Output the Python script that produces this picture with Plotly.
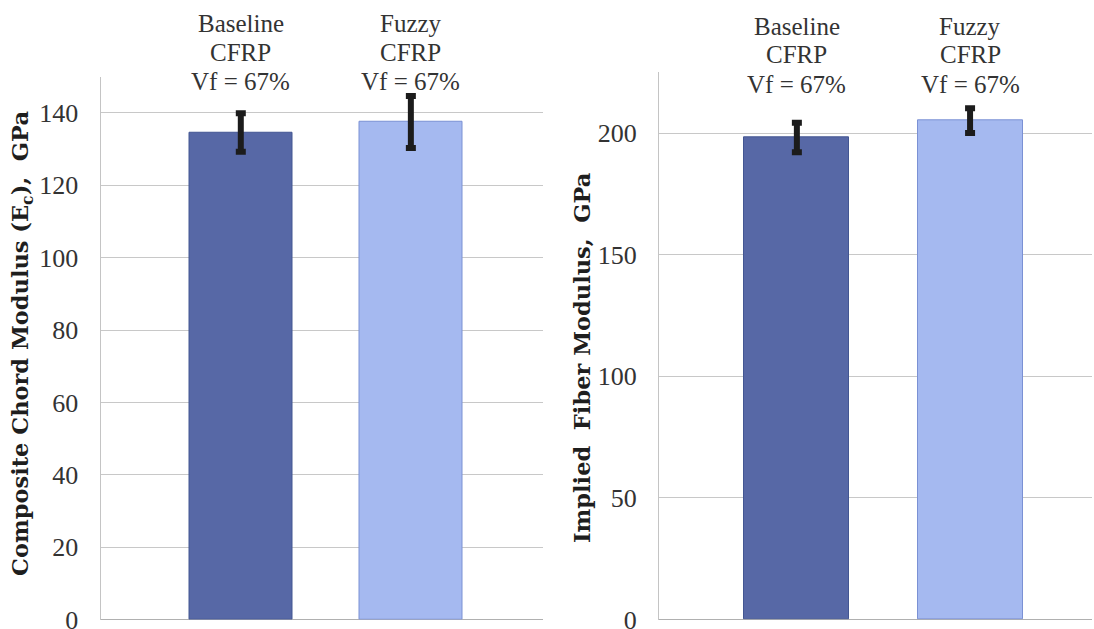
import plotly.graph_objects as go
from plotly.subplots import make_subplots

# ---- data ----
categories = ["Baseline CFRP", "Fuzzy CFRP"]
label_lines = [["Baseline", "CFRP", "Vf = 67%"], ["Fuzzy", "CFRP", "Vf = 67%"]]
composite_modulus = [134.6, 137.5]
composite_err = [5.3, 7.2]
fiber_modulus = [198.2, 205.1]
fiber_err = [6.1, 5.1]
left_ticks = [0, 20, 40, 60, 80, 100, 120, 140]
right_ticks = [0, 50, 100, 150, 200]
left_title = "Composite Chord Modulus (E<sub>c</sub>),  GPa"
right_title = "Implied  Fiber Modulus,  GPa"

bar_colors = ["#5768a6", "#a5b9f0"]
bar_edges = ["#435692", "#7b91d4"]
SERIF = "Liberation Serif"
W, H = 1094, 629

fig = make_subplots(rows=1, cols=2)

err_style = dict(type="data", visible=True, color="#1c1c1c", thickness=6, width=5)

fig.add_trace(go.Bar(x=categories, y=composite_modulus, width=0.606,
                     marker=dict(color=bar_colors, line=dict(color=bar_edges, width=1)),
                     error_y=dict(array=composite_err, **err_style), showlegend=False),
              row=1, col=1)
fig.add_trace(go.Bar(x=categories, y=fiber_modulus, width=0.606,
                     marker=dict(color=bar_colors, line=dict(color=bar_edges, width=1)),
                     error_y=dict(array=fiber_err, **err_style), showlegend=False),
              row=1, col=2)

grid = "#c8c8c8"
yax_common = dict(showgrid=True, gridcolor=grid, gridwidth=1, showline=True, linecolor="#c4c4c4",
                  linewidth=1, zeroline=True, zerolinecolor="#b0b0b0", zerolinewidth=1,
                  ticks="", ticklabelstandoff=16, ticklabeloverflow="allow", automargin=False,
                  tickfont=dict(family=SERIF, size=26, color="#333333"))
xax_common = dict(showticklabels=False, showgrid=False, showline=False, zeroline=False,
                  ticks="", automargin=False)
fig.update_layout(
    width=W, height=H, margin=dict(l=0, r=0, t=0, b=0, autoexpand=False),
    paper_bgcolor="white", plot_bgcolor="white",
    bargap=0,
    xaxis=dict(domain=[100.5 / W, 543 / W], range=[-0.825, 1.777], **xax_common),
    xaxis2=dict(domain=[659 / W, 1092 / W], range=[-0.796, 1.704], **xax_common),
    yaxis=dict(domain=[1 - 619.5 / H, 1 - 76.75 / H], range=[0, 150], tickvals=left_ticks, **yax_common),
    yaxis2=dict(domain=[1 - 619.5 / H, 1 - 72.3 / H], range=[0, 225], tickvals=right_ticks, **yax_common),
)

ann = []
line_y_left = [23.3, 52.7, 81.7]
line_y_right = [26.7, 55.0, 85.0]
for ci, cat in enumerate(categories):
    for li, txt in enumerate(label_lines[ci]):
        ann.append(dict(x=cat, xref="x", y=1 - line_y_left[li] / H, yref="paper", text=txt,
                        showarrow=False, xanchor="center", yanchor="middle",
                        font=dict(family=SERIF, size=25, color="#333333")))
        ann.append(dict(x=cat, xref="x2", y=1 - line_y_right[li] / H, yref="paper", text=txt,
                        showarrow=False, xanchor="center", yanchor="middle",
                        font=dict(family=SERIF, size=25, color="#333333")))

ann.append(dict(x=22 / W, xref="paper", y=1 - 344 / H, yref="paper", text=left_title,
                textangle=-90, showarrow=False, xanchor="center", yanchor="middle",
                font=dict(family="DejaVu Serif", size=22.5, color="#1e1e1e", weight="bold")))
ann.append(dict(x=582 / W, xref="paper", y=1 - 357 / H, yref="paper", text=right_title,
                textangle=-90, showarrow=False, xanchor="center", yanchor="middle",
                font=dict(family="DejaVu Serif", size=22.5, color="#1e1e1e", weight="bold")))
fig.update_layout(annotations=ann)

fig.write_html("out.html")
